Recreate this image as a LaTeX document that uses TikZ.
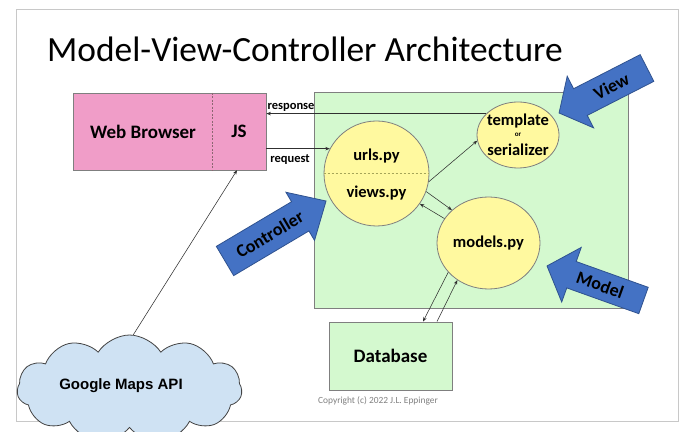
\documentclass[tikz,border=0pt]{standalone}
\usepackage{fontspec}
\setmainfont{Carlito}
\newfontfamily\arialf{Liberation Sans}
\usetikzlibrary{shapes.geometric,shapes.symbols,arrows.meta}
\definecolor{pinkc}{HTML}{F09DC8}
\definecolor{greenc}{HTML}{D4F9CF}
\definecolor{yellowc}{HTML}{FFF99F}
\definecolor{bluec}{HTML}{4472C4}
\definecolor{bluedark}{HTML}{2F528F}
\definecolor{cloudc}{HTML}{CFE2F3}
\definecolor{cloudline}{HTML}{434343}
\definecolor{boxline}{HTML}{7F7F7F}
\definecolor{framec}{HTML}{C8C8C8}
\definecolor{arrc}{HTML}{303030}
\begin{document}
\begin{tikzpicture}[x=1pt,y=1pt,
  box/.style={draw=boxline, line width=0.8pt, inner sep=0pt},
  bubble/.style={draw=boxline, line width=0.8pt, fill=yellowc, inner sep=0pt},
  bigtxt/.style={font=\bfseries\fontsize{19}{22}\selectfont, inner sep=0pt},
  midtxt/.style={font=\bfseries\fontsize{16.5}{19}\selectfont, inner sep=0pt},
  lbl/.style={font=\bfseries\fontsize{12.5}{14}\selectfont, inner sep=0pt},
  arr/.style={draw=arrc, line width=0.55pt, -{Stealth[length=4.5pt,width=3.5pt]}},
  blockarr/.style={fill=bluec, draw=bluedark, line width=0.8pt, line join=miter},
  arrtxt/.style={font=\bfseries\fontsize{18}{20}\selectfont, inner sep=0pt}]
\useasboundingbox (0,0) rectangle (679,431);
\clip (0,0) rectangle (679,431);
\fill[white] (0,0) rectangle (679,431);
\draw[framec, line width=0.8pt] (16,10) rectangle (678,422);

% title
\node[anchor=base west, font=\fontsize{35.4}{40}\selectfont, inner sep=0pt] (title) at (47,369) {Model-View-Controller Architecture};

% application box
\node[box, fill=greenc, minimum width=314, minimum height=216] (app) at (471,231) {};

% web browser
\node[box, fill=pinkc, minimum width=193, minimum height=77] (wb) at (169.5,299.5) {};
\node[bigtxt] (wbt) at (143,299.5) {Web Browser};
\node[bigtxt, minimum width=54, minimum height=77] (js) at (239,299.5) {JS};
\draw[draw=boxline!80!purple, line width=0.6pt, dash pattern=on 2pt off 1.5pt] (js.north west) -- (js.south west);

% controller bubble
\node[circle, bubble, minimum size=105] (ctrl) at (376.5,257.5) {};
\draw[draw=boxline!70!yellow, line width=0.6pt, dash pattern=on 2.5pt off 1.5pt] (ctrl.west) -- (ctrl.east);
\node[midtxt] (urls) at (376.5,275) {urls.py};
\node[midtxt] (views) at (376.5,238) {views.py};

% template bubble
\node[ellipse, bubble, minimum width=82, minimum height=66] (tmpl) at (518,296) {};
\node[midtxt] (tt) at (518,310) {template};
\node[font=\bfseries\fontsize{7}{8}\selectfont, inner sep=0pt] (tor) at (518,296) {or};
\node[midtxt] (ts) at (518,281.5) {serializer};

% models bubble
\node[ellipse, bubble, minimum width=103, minimum height=92, midtxt] (models) at (488.5,188) {models.py};

% database
\node[box, fill=greenc, minimum width=123, minimum height=68, bigtxt] (db) at (390.5,75) {Database};

% copyright
\node[text=gray, font=\fontsize{9.4}{10}\selectfont, inner sep=0pt] (copy) at (378,30) {Copyright (c) 2022 J.L. Eppinger};

% cloud
\node[cloud, cloud puffs=11, cloud puff arc=115, aspect=2.2, draw=cloudline, line width=0.8pt, fill=cloudc, minimum width=225, minimum height=108, inner sep=0pt] (gm) at (129.5,42) {};
\node[font=\arialf\bfseries\fontsize{15}{18}\selectfont, inner sep=0pt] (gmt) at (121,45) {Google Maps API};

% connectors
\draw[arr] (tmpl.146) -- (tmpl.146 -| wb.east);
\draw[arr] (ctrl.152 -| wb.east) -- (ctrl.152);
\node[lbl] (resp) at (291,324) {response};
\node[lbl] (req) at (290,271) {request};
\draw[arr] (ctrl.-9) -- (tmpl.188);
\draw[arr] (ctrl.-20) -- (models.138);
\draw[arr] (models.151) -- (ctrl.-35);
\draw[arr] (models.216) -- ([xshift=32.5pt]db.north);
\draw[arr] ([xshift=46.5pt]db.north) -- (models.230);
\draw[arr] (gm.86) -- ([xshift=-2pt]js.south);

% block arrows
\begin{scope}[shift={(225,170)}, rotate=30.7]
  \draw[blockarr] (0,-17) -- (87.5,-17) -- (87.5,-28) -- (117.5,0) -- (87.5,28) -- (87.5,17) -- (0,17) -- cycle;
  \node[arrtxt, rotate=30.7] (ctrltxt) at (52,0) {Controller};
\end{scope}
\begin{scope}[shift={(647,363)}, rotate=207.1]
  \draw[blockarr] (0,-15) -- (74.8,-15) -- (74.8,-29) -- (98.8,0) -- (74.8,29) -- (74.8,15) -- (0,15) -- cycle;
  \node[arrtxt, rotate=27.1] (viewtxt) at (40,0) {View};
\end{scope}
\begin{scope}[shift={(643.5,130.5)}, rotate=160.3]
  \draw[blockarr] (0,-14) -- (76.5,-14) -- (76.5,-29) -- (102.5,0) -- (76.5,29) -- (76.5,14) -- (0,14) -- cycle;
  \node[arrtxt, rotate=-19.7] (modeltxt) at (46,0) {Model};
\end{scope}
\end{tikzpicture}
\end{document}
